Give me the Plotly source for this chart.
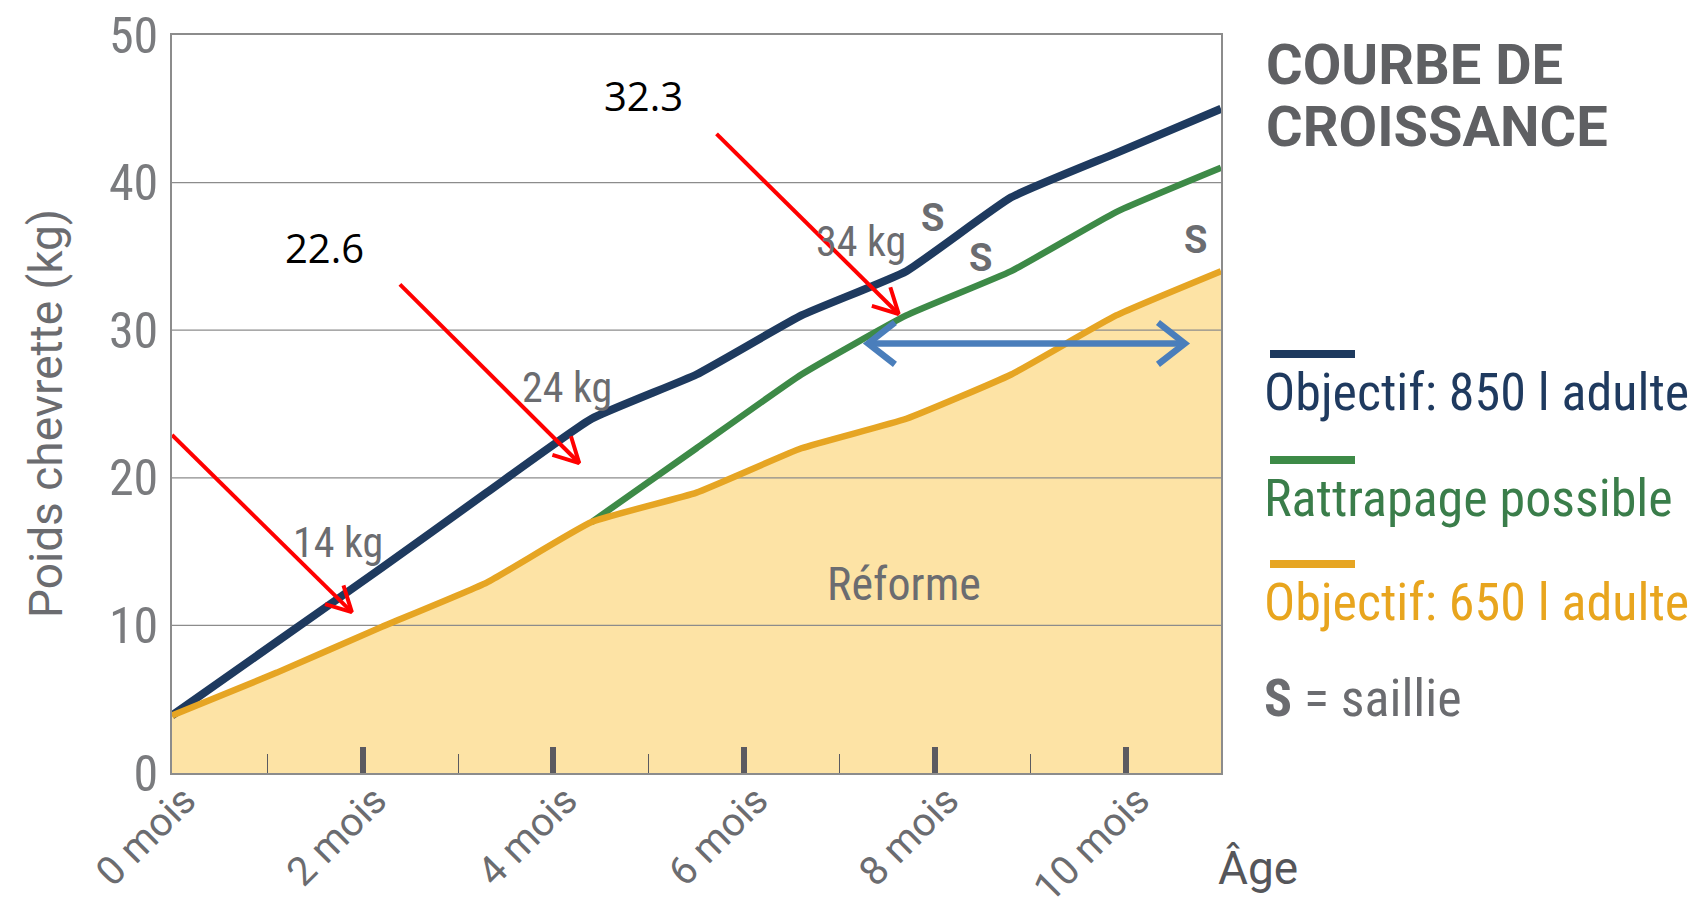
import math
import plotly.graph_objects as go

# ---------------- data ----------------
months = [0, 1.1, 2.2, 3.3, 4.4, 5.5, 6.6, 7.7, 8.8, 9.9, 11.0]
objectif_850 = [3.9, 8.9, 13.9, 19.0, 24.0, 27.0, 31.0, 34.0, 39.0, 42.0, 45.0]
objectif_650 = [3.9, 6.8, 9.9, 12.9, 17.0, 19.0, 22.0, 24.0, 27.0, 31.0, 34.0]
rattrapage_months = [4.4, 5.5, 6.6, 7.7, 8.8, 9.9, 11.0]
rattrapage = [17.0, 22.0, 27.0, 31.0, 34.0, 38.0, 41.0]

y_ticks = [0, 10, 20, 30, 40, 50]
x_major = [0, 2, 4, 6, 8, 10]
x_labels = ["0 mois", "2 mois", "4 mois", "6 mois", "8 mois", "10 mois"]
x_minor = [1, 3, 5, 7, 9]

kg_labels = ["14 kg", "24 kg", "34 kg"]
kg_x = [1.74, 4.14, 7.22]
kg_y = [15.6, 26.1, 36.0]

s_x = [7.97, 8.48, 10.73]
s_y = [37.6, 34.9, 36.1]

reforme_x, reforme_y = 7.68, 12.8

callout_values = ["12.9", "22.6", "32.3"]
callout_text_x = [-0.32, 1.6, 4.94]
callout_text_y = [25.4, 35.6, 45.9]
arrow_tail_x = [0.0, 2.39, 5.71]
arrow_tail_y = [22.9, 33.1, 43.3]
arrow_tip_x = [1.886, 4.27, 7.62]
arrow_tip_y = [10.9, 21.0, 31.1]

span_x = [7.30, 10.62]
span_y = 29.1

legend_names = ["Objectif: 850 l adulte", "Rattrapage possible", "Objectif: 650 l adulte"]

# ---------------- style ----------------
# the page body adds an 8px offset; plot box in screen pixels: 172..1221 x 35..773
BODY = 8
PL, PR, PT, PB = 172, 1221, 35, 773
W, H = 1708 - BODY, 912 - BODY
ML, MT = PL - BODY, PT - BODY
MR, MB = W - (PR - BODY), H - (PB - BODY)
XMAX, YMAX = 11, 50
NAVY = "#1e3a5f"
GREEN = "#3d8a47"
ORANGE = "#E6A523"
FILL = "#FDE3A5"
GRAY = "#6b6c70"
GRID = "#8c8c8c"
NARROW = "Liberation Sans Narrow, Roboto Condensed, DejaVu Sans Condensed, Roboto, sans-serif"
SANS = "Roboto, Liberation Sans, sans-serif"

pw, ph = PR - PL, PB - PT
sx, sy = pw / XMAX, ph / YMAX


def arrow_xy(x0, y0, x1, y1, L, ang, both=False):
    xs, ys = [x0, x1, None], [y0, y1, None]

    def head(xa, ya, xb, yb):
        th = math.atan2((yb - ya) * sy, (xb - xa) * sx)
        pts_x, pts_y = [], []
        for s in (1, -1):
            a = th + s * math.radians(ang)
            pts_x.append(xb - L * math.cos(a) / sx)
            pts_y.append(yb - L * math.sin(a) / sy)
        return [pts_x[0], xb, pts_x[1], None], [pts_y[0], yb, pts_y[1], None]

    hx, hy = head(x0, y0, x1, y1)
    xs += hx
    ys += hy
    if both:
        hx, hy = head(x1, y1, x0, y0)
        xs += hx
        ys += hy
    return xs, ys


fig = go.Figure()

# Réforme area
fig.add_trace(go.Scatter(x=months, y=objectif_650, mode="none", fill="tozeroy",
                         fillcolor=FILL, line=dict(shape="spline", smoothing=0.4),
                         hoverinfo="skip", showlegend=False))
# grid lines above the fill
gx, gy = [], []
for v in y_ticks[1:-1]:
    gx += [0, XMAX, None]
    gy += [v, v, None]
fig.add_trace(go.Scatter(x=gx, y=gy, mode="lines", line=dict(color=GRID, width=1.3),
                         hoverinfo="skip", showlegend=False))

fig.add_trace(go.Scatter(x=months, y=objectif_850, mode="lines", name=legend_names[0],
                         line=dict(color=NAVY, width=8, shape="spline", smoothing=0.4),
                         showlegend=False))
fig.add_trace(go.Scatter(x=rattrapage_months, y=rattrapage, mode="lines", name=legend_names[1],
                         line=dict(color=GREEN, width=6.5, shape="spline", smoothing=0.4),
                         showlegend=False))
fig.add_trace(go.Scatter(x=months, y=objectif_650, mode="lines", name=legend_names[2],
                         line=dict(color=ORANGE, width=6.5, shape="spline", smoothing=0.4),
                         showlegend=False))

# red arrows
for i in range(3):
    ax, ay = arrow_xy(arrow_tail_x[i], arrow_tail_y[i], arrow_tip_x[i], arrow_tip_y[i], 28, 28)
    fig.add_trace(go.Scatter(x=ax, y=ay, mode="lines", line=dict(color="#FF0000", width=4),
                             hoverinfo="skip", showlegend=False, cliponaxis=False))
# blue double arrow
bx, by = arrow_xy(span_x[0], span_y, span_x[1], span_y, 34, 38, both=True)
fig.add_trace(go.Scatter(x=bx, y=by, mode="lines", line=dict(color="#4A7EBB", width=6.5),
                         hoverinfo="skip", showlegend=False))

# dummy trace for the tick axis
fig.add_trace(go.Scatter(x=[0, XMAX], y=[0, 0], xaxis="x2", mode="lines",
                         line=dict(width=0), hoverinfo="skip", showlegend=False))

ann = []
for t, x, y in zip(kg_labels, kg_x, kg_y):
    ann.append(dict(x=x, y=y, text=t, showarrow=False, font=dict(family=NARROW, size=42, color=GRAY)))
for x, y in zip(s_x, s_y):
    ann.append(dict(x=x, y=y, text="<b>S</b>", showarrow=False, font=dict(family=SANS, size=38, color=GRAY)))
ann.append(dict(x=reforme_x, y=reforme_y, text="Réforme", showarrow=False,
                font=dict(family=NARROW, size=46, color=GRAY)))
for t, x, y in zip(callout_values, callout_text_x, callout_text_y):
    ann.append(dict(x=x, y=y, text=t, showarrow=False, font=dict(family="Open Sans, sans-serif", size=40, color="#000000")))

# right-side legend / title (positions given in screen pixels)
PX = lambda px: (px - PL) / pw
PY = lambda py: (PB - py) / ph
ann.append(dict(xref="paper", yref="paper", x=PX(1264), y=PY(65), xanchor="left", yanchor="middle",
                text="<b>COURBE DE</b>", showarrow=False, font=dict(family=SANS, size=56, color="#5f6063")))
ann.append(dict(xref="paper", yref="paper", x=PX(1264), y=PY(127), xanchor="left", yanchor="middle",
                text="<b>CROISSANCE</b>", showarrow=False, font=dict(family=SANS, size=56, color="#5f6063")))
leg_cols = [NAVY, GREEN, ORANGE]
leg_text_cols = ["#1f3a5f", "#3a7d4a", "#E8A51E"]
leg_line_y = [354, 460, 564]
leg_text_y = [392, 498, 602]
shapes = []
for name, c, tc, ly, ty in zip(legend_names, leg_cols, leg_text_cols, leg_line_y, leg_text_y):
    shapes.append(dict(type="line", xref="paper", yref="paper", x0=PX(1270), x1=PX(1355),
                       y0=PY(ly), y1=PY(ly), line=dict(color=c, width=8)))
    ann.append(dict(xref="paper", yref="paper", x=PX(1262), y=PY(ty), xanchor="left", yanchor="middle",
                    text=name, showarrow=False, font=dict(family=NARROW, size=52, color=tc)))
ann.append(dict(xref="paper", yref="paper", x=PX(1262), y=PY(698), xanchor="left", yanchor="middle",
                text="<b>S</b> = saillie", showarrow=False, font=dict(family=NARROW, size=52, color=GRAY)))
ann.append(dict(xref="paper", yref="paper", x=PX(1258), y=PY(868), xanchor="center", yanchor="middle",
                text="Âge", showarrow=False, font=dict(family=SANS, size=46, color="#55565a")))
ann.append(dict(xref="paper", yref="paper", x=PX(46), y=PY(414), xanchor="center", yanchor="middle",
                text="Poids chevrette (kg)", textangle=-90, showarrow=False,
                font=dict(family=SANS, size=46, color=GRAY)))

fig.update_layout(
    width=W, height=H, margin=dict(l=ML, r=MR, t=MT, b=MB, autoexpand=False),
    paper_bgcolor="white", plot_bgcolor="white",
    showlegend=False, annotations=ann, shapes=shapes,
    xaxis=dict(range=[0, XMAX], tickvals=x_major, ticktext=x_labels, tickangle=-45,
               ticks="", showgrid=False, zeroline=False, showline=True, linecolor=GRID,
               linewidth=1.5, mirror=True, ticklabelstandoff=-14, ticklabelshift=12,
               ticklabeloverflow="allow", automargin=False,
               tickfont=dict(family=SANS, size=40, color=GRAY)),
    xaxis2=dict(range=[0, XMAX], overlaying="x", anchor="y", side="bottom", automargin=False,
                tickvals=x_major[1:], ticks="inside", ticklen=26, tickwidth=6, tickcolor="#5b5a60",
                showticklabels=False, showgrid=False, zeroline=False, showline=False,
                minor=dict(tickvals=x_minor, ticks="inside", ticklen=19, tickwidth=1.3,
                           tickcolor="#5b5a60", showgrid=False)),
    yaxis=dict(range=[0, YMAX], tickvals=y_ticks, showgrid=False, zeroline=False,
               showline=True, linecolor=GRID, linewidth=1.5, mirror=True, ticks="",
               ticklabelstandoff=2, ticklabeloverflow="allow", automargin=False,
               tickfont=dict(family=NARROW, size=50, color="#7a7b7e")),
)

fig.write_html("out.html")
